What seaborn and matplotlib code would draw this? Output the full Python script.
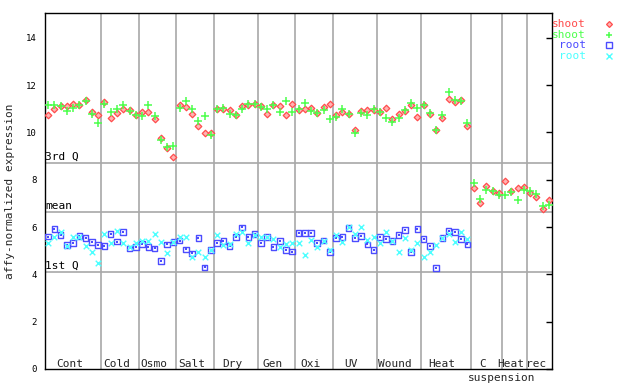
import numpy as np
import pandas as pd
import matplotlib
matplotlib.use("Agg")
import matplotlib.pyplot as plt
from matplotlib.lines import Line2D
import seaborn as sns

# ---------------- data ----------------
group_labels = ["Cont", "Cold", "Osmo", "Salt", "Dry", "Gen", "Oxi", "UV",
                "Wound", "Heat", "C", "Heat", "rec"]
group_sizes = [9, 6, 6, 6, 7, 6, 6, 7, 7, 8, 5, 4, 4]
sub_label = "suspension"

shoot_a = [10.74, 10.98, 11.10, 11.10, 11.21, 11.14, 11.38, 10.86, 10.74,
           11.28, 10.62, 10.82, 10.98, 10.96, 10.74,
           10.87, 10.87, 10.56, 9.76, 9.35, 8.95,
           11.14, 11.07, 10.80, 10.27, 9.98, 9.98,
           10.98, 10.98, 10.96, 10.74, 11.10, 11.15, 11.21,
           11.10, 10.79, 11.15, 11.13, 10.74, 11.21,
           10.96, 11.00, 11.05, 10.83, 11.08, 11.21,
           10.73, 10.86, 10.76, 10.12, 10.91, 10.96, 10.96,
           10.86, 11.03, 10.58, 10.79, 10.91, 11.17, 10.65,
           11.14, 10.77, 10.11, 10.60, 11.41, 11.28, 11.37, 10.27,
           7.64, 7.01, 7.74, 7.53, 7.42,
           7.95, 7.54, 7.64, 7.68,
           7.43, 7.29, 6.75, 7.15]
shoot_b = [11.14, 11.17, 11.13, 10.90, 11.03, 11.14, 11.35, 10.79, 10.39,
           11.21, 10.86, 10.98, 11.15, 10.90, 10.74,
           10.69, 11.15, 10.70, 9.66, 9.38, 9.43,
           11.03, 11.32, 10.98, 10.48, 10.69, 9.90,
           10.98, 11.05, 10.77, 10.74, 10.98, 11.21, 11.21,
           11.07, 10.98, 11.15, 10.86, 11.32, 10.86,
           10.98, 11.24, 10.90, 10.82, 10.94, 10.56,
           10.65, 10.98, 10.76, 9.97, 10.82, 10.73, 10.98,
           10.86, 10.60, 10.43, 10.60, 10.94, 11.24, 11.03,
           11.14, 10.82, 10.11, 10.73, 11.72, 11.37, 11.34, 10.38,
           7.85, 7.19, 7.56, 7.54, 7.35,
           7.35, 7.49, 7.15, 7.57,
           7.53, 7.39, 6.90, 6.92]
root_a = [5.60, 5.92, 5.67, 5.25, 5.32, 5.63, 5.53, 5.36, 5.25, 5.20, 5.70,
          5.39, 5.78, 5.10, 5.15, 5.29, 5.15, 5.10, 4.57, 5.27, 5.36,
          5.43, 5.06, 4.89, 5.53, 4.30, 5.02, 5.32, 5.41, 5.20, 5.57,
          5.99, 5.57, 5.70, 5.32, 5.57, 5.15, 5.41, 5.02, 4.96, 5.74,
          5.74, 5.74, 5.32, 5.43, 4.94, 5.53, 5.57, 5.95, 5.53, 5.63,
          5.27, 5.02, 5.57, 5.49, 5.41, 5.67, 5.88, 4.94, 5.91, 5.49,
          5.20, 4.26, 5.53, 5.84, 5.78, 5.49, 5.27]
root_b = [5.34, 5.57, 5.81, 5.20, 5.60, 5.60, 5.20, 4.96, 4.48, 5.71, 5.32,
          5.85, 5.34, 5.15, 5.32, 5.43, 5.43, 5.71, 5.36, 4.89, 5.36,
          5.60, 5.60, 4.72, 4.94, 4.75, 5.02, 5.67, 5.25, 5.29, 5.71,
          5.81, 5.34, 5.67, 5.60, 5.60, 5.49, 5.15, 5.29, 5.32, 5.32,
          4.82, 5.46, 5.15, 5.43, 5.03, 5.67, 5.39, 5.99, 5.70, 5.99,
          5.46, 5.57, 5.32, 5.81, 5.41, 4.96, 5.53, 5.03, 5.32, 4.72,
          4.96, 5.25, 5.53, 5.70, 5.39, 5.78, 5.49]

stat_values = [8.70, 6.63, 4.09]
stat_labels = ["3rd Q", "mean", "1st Q"]

legend_labels = ["shoot", "shoot", "root", "root"]

# ---------------- style ----------------
sns.set_style("white")
plt.rcParams["font.family"] = ["DejaVu Sans Mono", "DejaVu Sans"]

RED, GREEN, BLUE, CYAN = "#ff4c4c", "#4cff4c", "#4c4cff", "#4cffff"
GRID = "#a8a8a8"

fig = plt.figure(figsize=(6.4, 3.84), dpi=100)
ax = fig.add_axes([45 / 640, 15 / 384, 507 / 640, 356 / 384])

n_total = sum(group_sizes)

# separators and stat lines
bounds = np.cumsum(group_sizes)[:-1] - 0.5
for b in bounds:
    ax.axvline(b, color=GRID, lw=1.2, zorder=0)
for v, lab in zip(stat_values, stat_labels):
    ax.axhline(v, color=GRID, lw=1.2, zorder=0)
    ax.text(-0.45, v + 0.05, lab, ha="left", va="bottom", fontsize=8,
            color="black")

def frame(vals):
    return pd.DataFrame({"x": np.arange(len(vals)), "y": vals})

sns.scatterplot(data=frame(shoot_a), x="x", y="y", marker="D", s=11,
                facecolor="#ffb3b3", edgecolor=RED, linewidth=0.9,
                ax=ax, legend=False, zorder=3)
sns.scatterplot(data=frame(shoot_b), x="x", y="y", marker="+", s=26,
                color=GREEN, linewidth=1.1, ax=ax, legend=False, zorder=4)
sns.scatterplot(data=frame(root_a), x="x", y="y", marker="s", s=16,
                facecolor="none", edgecolor=BLUE, linewidth=1.0,
                ax=ax, legend=False, zorder=3)
sns.scatterplot(data=frame(root_a), x="x", y="y", marker="s", s=1.2,
                color=BLUE, linewidth=0, ax=ax, legend=False, zorder=3)
sns.scatterplot(data=frame(root_b), x="x", y="y", marker="x", s=16,
                color=CYAN, linewidth=1.0, ax=ax, legend=False, zorder=4)

ax.set_xlim(-0.5, n_total - 0.5)
ax.set_ylim(0, 15.05)
ax.set_xticks([])
ax.set_yticks(range(0, 15, 2))
ax.tick_params(axis="y", direction="in", length=4, width=1, right=True,
               labelright=False, labelsize=6.5, pad=6, colors="black")
for sp in ax.spines.values():
    sp.set_color("black")
    sp.set_linewidth(1)
ax.set_xlabel("")
ax.set_ylabel("affy-normalized expression", fontsize=8, labelpad=8)

# group labels
starts = np.concatenate([[0], np.cumsum(group_sizes)[:-1]])
centers = starts + (np.array(group_sizes) - 1) / 2.0 - 0.6
for c, lab in zip(centers, group_labels):
    ax.text(c, 0.22, lab, ha="center", va="center", fontsize=8)
ax.text(72.4, -0.4, sub_label, ha="center", va="center", fontsize=8,
        clip_on=False)

# legend (text left, marker right)
leg_colors = [RED, GREEN, BLUE, CYAN]
leg_y = [1 - 24 / 384, 1 - 34.7 / 384, 1 - 45.3 / 384, 1 - 56.3 / 384]
leg_markers = [dict(marker="D", markersize=3.0, markerfacecolor="#ffb3b3",
                    markeredgecolor=RED, markeredgewidth=0.9),
               dict(marker="+", markersize=5.0, markeredgecolor=GREEN,
                    markeredgewidth=1.1),
               dict(marker="s", markersize=3.8, markerfacecolor="none",
                    markeredgecolor=BLUE, markeredgewidth=1.0),
               dict(marker="x", markersize=3.8, markeredgecolor=CYAN,
                    markeredgewidth=1.0)]
for lab, col, y, mk in zip(legend_labels, leg_colors, leg_y, leg_markers):
    fig.text(586 / 640, y, lab, ha="right", va="center", fontsize=8,
             color=col)
    fig.add_artist(Line2D([609 / 640], [y], transform=fig.transFigure,
                          linestyle="none", **mk))

fig.savefig("out.png", dpi=100)
